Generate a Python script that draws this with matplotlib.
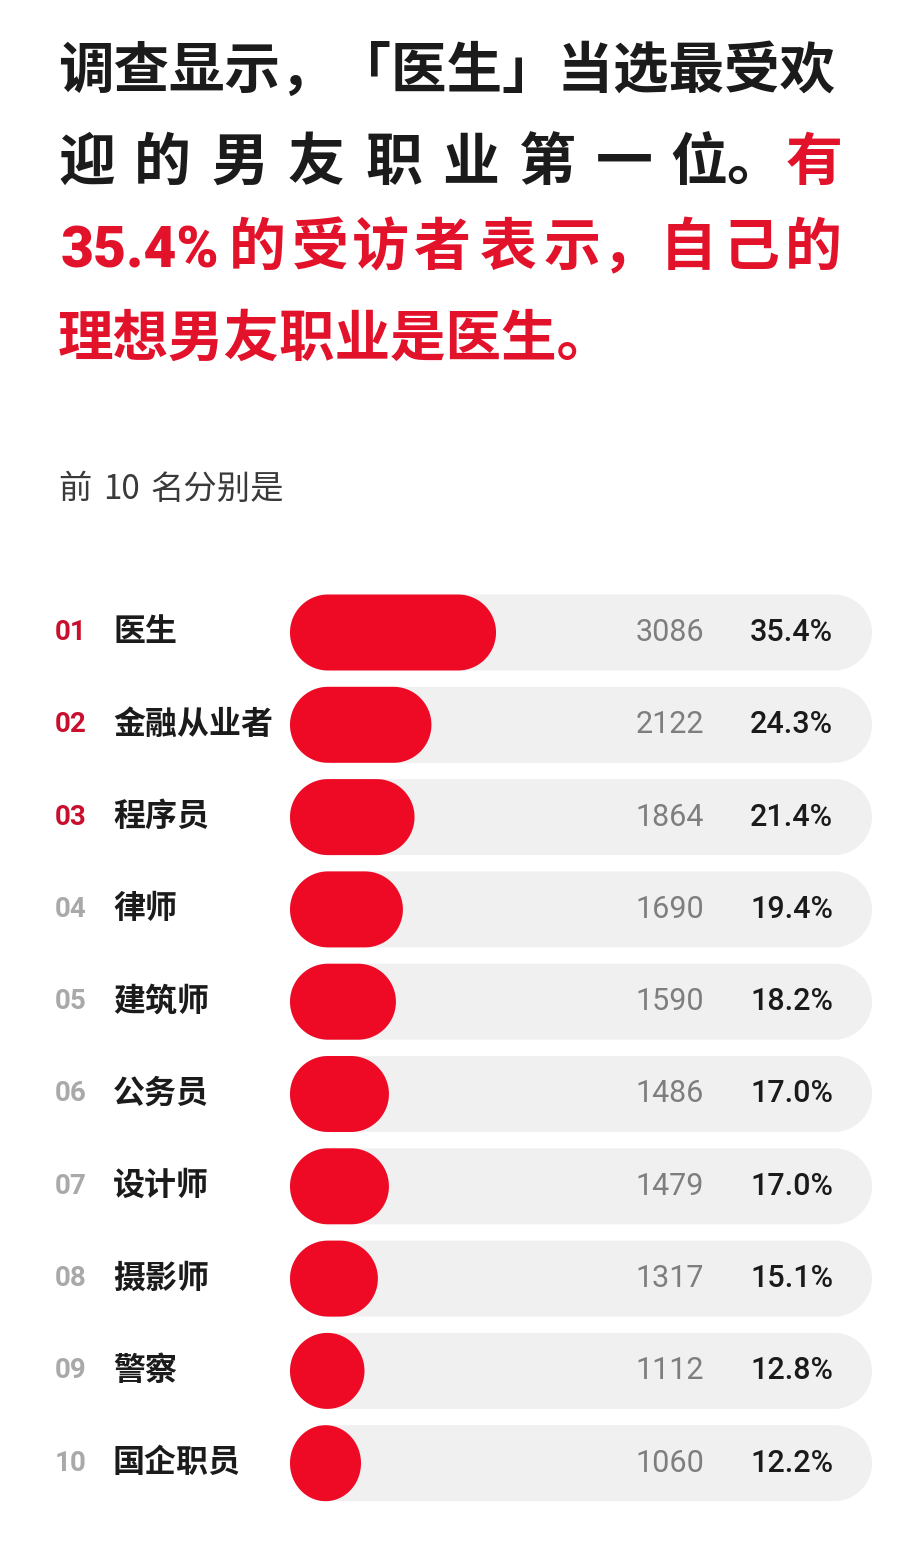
import numpy as np
import matplotlib
matplotlib.use("Agg")
import matplotlib.pyplot as plt
from matplotlib.patches import Polygon
from matplotlib.transforms import blended_transform_factory

plt.rcParams['font.family'] = ['Noto Sans CJK SC', 'DejaVu Sans']

# ---------------- data ----------------
ranks = ['01', '02', '03', '04', '05', '06', '07', '08', '09', '10']
jobs = ['医生', '金融从业者', '程序员', '律师', '建筑师', '公务员', '设计师', '摄影师', '警察', '国企职员']
counts = [3086, 2122, 1864, 1690, 1590, 1486, 1479, 1317, 1112, 1060]
pcts = [35.4, 24.3, 21.4, 19.4, 18.2, 17.0, 17.0, 15.1, 12.8, 12.2]

title_line1 = '调查显示，「医生」当选最受欢'
title_line2 = ['迎', '的', '男', '友', '职', '业', '第', '一', '位。']
title_line2_red = '有'
title_line3_num = '35.4%'
title_line3 = ['的', '受', '访', '者', '表', '示', '，', '自', '己', '的']
title_line4 = '理想男友职业是医生。'
subtitle_parts = ['前', '10', '名分别是']

# ---------------- style / layout ----------------
W, H = 900, 1543
BLACK = '#1b1b1b'
TITLE_RED = '#e3122b'
BAR_RED = '#ee0a25'
RANK_RED = '#c8102e'
RANK_GREY = '#a9a9a9'
TRACK = '#f0f0f0'
COUNT_GREY = '#7e7e7e'

fig = plt.figure(figsize=(W / 100, H / 100), dpi=100)
fig.patch.set_facecolor('white')


def fx(px):
    return px / W


def fy(py):
    return 1 - py / H


def place(chars, lefts, base, color, fs):
    for ch, xx in zip(chars, lefts):
        fig.text(fx(xx), fy(base), ch, fontsize=fs, fontweight='black', color=color,
                 ha='left', va='baseline')


# title
fig.text(fx(58), fy(88), title_line1, fontsize=40, fontweight='black', color=BLACK,
         ha='left', va='baseline')
place(title_line2, [58, 134, 211, 288, 365, 442, 519, 596, 670], 180, BLACK, 41)
place([title_line2_red], [786], 180, TITLE_RED, 41)
fig.text(fx(61), fy(267), title_line3_num, fontsize=41, fontweight='black', color=TITLE_RED,
         family=['Roboto', 'DejaVu Sans'], ha='left', va='baseline')
place(title_line3, [229, 292, 352, 414, 480, 544, 602, 660, 722, 785], 265, TITLE_RED, 41)
fig.text(fx(58), fy(356), title_line4, fontsize=40, fontweight='black', color=TITLE_RED,
         ha='left', va='baseline')

# subtitle
for part, xx in zip(subtitle_parts, [58, 103, 150]):
    fig.text(fx(xx), fy(499), part, fontsize=24, fontweight='light', color='#3a3a3a',
             ha='left', va='baseline')

# ---------------- bars ----------------
n = len(jobs)
row_px = 92.3
top_px = 632.5 - row_px / 2
ax_left, ax_right = 290, 872
ax_h_px = n * row_px
ax = fig.add_axes([fx(ax_left), fy(top_px + ax_h_px), fx(ax_right - ax_left), ax_h_px / H])
ax.set_xlim(0, 100)
ax.set_ylim(n - 0.5, -0.5)
ax.axis('off')

px_per_x = (ax_right - ax_left) / 100.0
px_per_y = row_px
bar_h = 76 / row_px                    # bar thickness in row units
cap_w = bar_h * px_per_y / px_per_x    # width (x units) of a full round cap


def stadium(x0, x1, yc, color, z):
    w = x1 - x0
    ry = bar_h / 2
    if w <= cap_w:
        rx = w / 2
        t = np.linspace(0, 2 * np.pi, 120)
        pts = np.column_stack([x0 + rx + rx * np.cos(t), yc + ry * np.sin(t)])
    else:
        rx = cap_w / 2
        t1 = np.linspace(np.pi / 2, 3 * np.pi / 2, 60)
        left = np.column_stack([x0 + rx + rx * np.cos(t1), yc + ry * np.sin(t1)])
        t2 = np.linspace(-np.pi / 2, np.pi / 2, 60)
        right = np.column_stack([x1 - rx + rx * np.cos(t2), yc + ry * np.sin(t2)])
        pts = np.vstack([left, right])
    ax.add_patch(Polygon(pts, closed=True, facecolor=color, edgecolor='none', zorder=z))


tr = blended_transform_factory(fig.transFigure, ax.transData)
for i in range(n):
    stadium(0, 100, i, TRACK, 1)
    stadium(0, pcts[i], i, BAR_RED, 2)
    rc = RANK_RED if i < 3 else RANK_GREY
    ax.text(fx(55), i, ranks[i], transform=tr, fontsize=20, fontweight='bold',
            family=['Roboto', 'DejaVu Sans'], color=rc, ha='left', va='center')
    ax.text(fx(113), i, jobs[i], transform=tr, fontsize=23, fontweight='bold',
            color=BLACK, ha='left', va='center')
    ax.text(fx(704), i, f'{counts[i]}', transform=tr, fontsize=22, fontweight='normal',
            family=['Roboto', 'DejaVu Sans'], color=COUNT_GREY, ha='right', va='center')
    ax.text(fx(833), i, f'{pcts[i]:.1f}%', transform=tr, fontsize=22, fontweight='medium',
            family=['Roboto', 'DejaVu Sans'], color=BLACK, ha='right', va='center')

fig.savefig('out.png', dpi=100, facecolor='white')
